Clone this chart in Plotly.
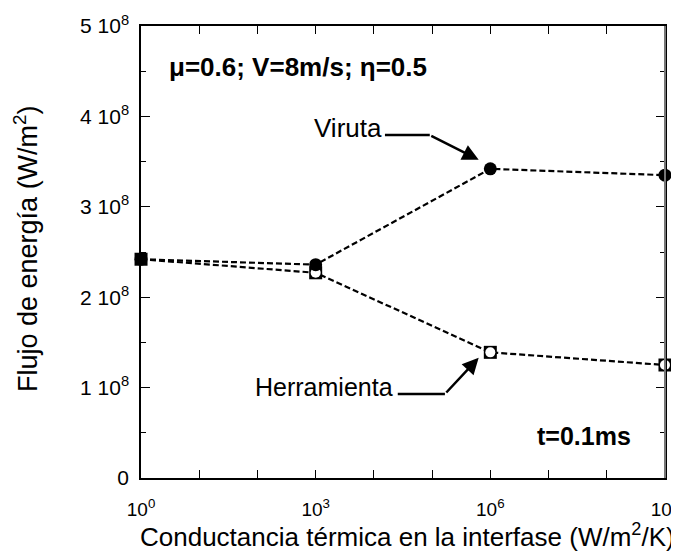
import plotly.graph_objects as go

# Data
conductance = [1, 1e3, 1e6, 1e9]
viruta = [2.42e8, 2.36e8, 3.42e8, 3.35e8]
herramienta = [2.42e8, 2.27e8, 1.39e8, 1.25e8]

x_tickvals = [10**k for k in range(10)]
x_ticktext = ["10<sup>0</sup>", "", "", "10<sup>3</sup>", "", "", "10<sup>6</sup>", "", "", "10<sup>9</sup>"]
y_tickvals = [0, 1e8, 2e8, 3e8, 4e8, 5e8]
y_ticktext = ["0", "1 10<sup>8</sup>", "2 10<sup>8</sup>", "3 10<sup>8</sup>", "4 10<sup>8</sup>", "5 10<sup>8</sup>"]

FONT = "Liberation Sans, Arial, sans-serif"

fig = go.Figure()

# Herramienta: black square with white circle inside
fig.add_trace(go.Scatter(
    x=conductance, y=herramienta, mode="lines+markers",
    line=dict(color="black", width=2.2, dash="6px,3px"),
    marker=dict(symbol="square", size=13, color="black", line=dict(width=0)),
    cliponaxis=False, showlegend=False))
fig.add_trace(go.Scatter(
    x=conductance, y=herramienta, mode="markers",
    marker=dict(symbol="circle", size=10, color="white", line=dict(width=0)),
    cliponaxis=False, showlegend=False))
# Viruta: filled circles
fig.add_trace(go.Scatter(
    x=conductance, y=viruta, mode="lines+markers",
    line=dict(color="black", width=2.2, dash="6px,3px"),
    marker=dict(symbol="circle", size=13, color="black", line=dict(width=0)),
    cliponaxis=False, showlegend=False))

# Arrow callouts (data coordinates; x in log10 units for annotations)
fig.add_shape(type="line", xref="x", yref="y", x0=10**4.19, x1=10**4.96, y0=3.794e8, y1=3.794e8,
              line=dict(color="black", width=2.5))
fig.add_annotation(x=5.80, y=3.52e8, ax=4.96, ay=3.794e8, axref="x", ayref="y", xref="x", yref="y",
                   text="", showarrow=True, arrowhead=2, arrowsize=1.3, arrowwidth=2.5, arrowcolor="black")
fig.add_annotation(x=4.17, y=3.87e8, xref="x", yref="y", text="Viruta", showarrow=False,
                   xanchor="right", yanchor="middle", font=dict(size=26, color="black", family=FONT))

fig.add_shape(type="line", xref="x", yref="y", x0=10**4.41, x1=10**5.22, y0=0.929e8, y1=0.929e8,
              line=dict(color="black", width=2.5))
fig.add_annotation(x=5.80, y=1.33e8, ax=5.22, ay=0.929e8, axref="x", ayref="y", xref="x", yref="y",
                   text="", showarrow=True, arrowhead=2, arrowsize=1.3, arrowwidth=2.5, arrowcolor="black")
fig.add_annotation(x=4.37, y=1.01e8, xref="x", yref="y", text="Herramienta", showarrow=False,
                   xanchor="right", yanchor="middle", font=dict(size=25, color="black", family=FONT))

fig.add_annotation(x=0.44, y=4.55e8, xref="x", yref="y", text="<b>\u03bc=0.6; V=8m/s; \u03b7=0.5</b>",
                   showarrow=False, xanchor="left", yanchor="middle",
                   font=dict(size=26, color="black", family=FONT))
fig.add_annotation(x=8.45, y=0.47e8, xref="x", yref="y", text="<b>t=0.1ms</b>",
                   showarrow=False, xanchor="right", yanchor="middle",
                   font=dict(size=25, color="black", family=FONT))

# Axis titles as annotations (pixel-placed relative to plot area)
fig.add_annotation(xref="paper", yref="paper", x=0.5, y=0, yshift=-57, xshift=4,
                   text="Conductancia térmica en la interfase (W/m<sup>2</sup>/K)",
                   showarrow=False, xanchor="center", yanchor="middle",
                   font=dict(size=26, family=FONT, color="black"))
fig.add_annotation(xref="paper", yref="paper", x=0, y=0.5, xshift=-115, yshift=3,
                   text="Flujo de energía (W/m<sup>2</sup>)", textangle=-90,
                   showarrow=False, xanchor="center", yanchor="middle",
                   font=dict(size=27, family=FONT, color="black"))

# Gray right spine
fig.add_shape(type="line", xref="paper", yref="paper", x0=1, x1=1, y0=0, y1=1,
              line=dict(color="#777", width=2))

fig.update_xaxes(
    type="log", range=[-0.0005, 9.0005], tickvals=x_tickvals, ticktext=x_ticktext,
    ticks="inside", ticklen=8, tickwidth=1.2, tickcolor="black",
    showline=True, linecolor="black", linewidth=1.5, mirror="ticks",
    showgrid=False, zeroline=False, automargin=False,
    ticklabeloverflow="allow", ticklabelstandoff=13,
    tickfont=dict(size=19, family=FONT, color="black"))
fig.update_yaxes(
    range=[0, 5e8], tickvals=y_tickvals, ticktext=y_ticktext,
    ticks="inside", ticklen=9, tickwidth=1.2, tickcolor="black",
    minor=dict(dtick=0.5e8, ticks="inside", ticklen=5, tickwidth=1.2, tickcolor="black"),
    showline=True, linecolor="black", linewidth=1.5, mirror="ticks",
    showgrid=False, zeroline=False, automargin=False,
    ticklabeloverflow="allow", ticklabelstandoff=6,
    tickfont=dict(size=21, family=FONT, color="black"))

# page body has an 8px margin, so the figure is sized to fit the 679x558 window
fig.update_layout(
    width=671, height=550,
    margin=dict(l=133, r=14, t=18, b=80, autoexpand=False),
    plot_bgcolor="white", paper_bgcolor="white",
    font=dict(family=FONT, color="black"),
)

fig.write_html("out.html")
